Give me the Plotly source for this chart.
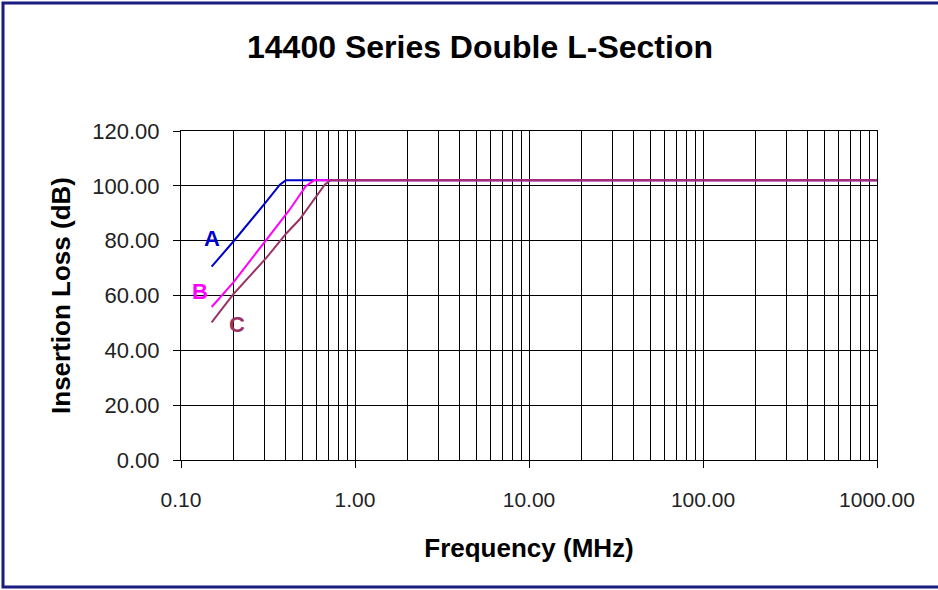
import math
import plotly.graph_objects as go

# Data
freq_a = [0.15, 0.2, 0.31, 0.37, 0.40, 1000]
loss_a = [70.5, 79.7, 94.3, 100.4, 102.0, 102.0]
freq_b = [0.15, 0.2, 0.31, 0.42, 0.52, 0.58, 1000]
loss_b = [55.8, 64.8, 80.4, 91.2, 99.8, 102.0, 102.0]
freq_c = [0.15, 0.2, 0.31, 0.405, 0.48, 0.67, 0.72, 1000]
loss_c = [50.2, 60.5, 73.8, 82.8, 87.7, 100.4, 102.0, 102.0]

series_names = ["A", "B", "C"]
series_colors = ["#0000CC", "#FF00FF", "#993366"]
label_freq = [0.151, 0.1286, 0.21]
label_loss = [80.7, 61.6, 49.5]

x_tickvals = [0.1, 1, 10, 100, 1000]
x_ticktext = ["0.10", "1.00", "10.00", "100.00", "1000.00"]
y_tickvals = [0, 20, 40, 60, 80, 100, 120]

W, H = 938, 590
L, R, T, B = 181, 61, 131, 130
pw, ph = W - L - R, H - T - B
FONT = "Arial, Liberation Sans, sans-serif"

fig = go.Figure()
for fx, ly, name, col in zip([freq_a, freq_b, freq_c], [loss_a, loss_b, loss_c],
                             series_names, series_colors):
    fig.add_trace(go.Scatter(x=fx, y=ly, mode="lines", name=name,
                             line=dict(color=col, width=2), showlegend=False))

for name, col, lx, ly in zip(series_names, series_colors, label_freq, label_loss):
    fig.add_annotation(x=math.log10(lx), y=ly, xref="x", yref="y", text="<b>%s</b>" % name,
                       showarrow=False, font=dict(family=FONT, size=22, color=col))

minor_vals = [d * m for d in [0.1, 1, 10, 100] for m in range(2, 10)]

fig.update_xaxes(type="log", range=[-1, 3], tickvals=x_tickvals, ticktext=x_ticktext,
                 ticks="outside", ticklen=7, tickcolor="black", tickwidth=1,
                 showgrid=True, gridcolor="black", gridwidth=1,
                 minor=dict(tickvals=minor_vals, showgrid=True, gridcolor="black", gridwidth=1, ticks=""),
                 showline=True, linecolor="black", linewidth=1, mirror=True,
                 tickfont=dict(family=FONT, size=21, color="#222"),
                 ticklabelstandoff=14,
                 title=dict(text="<b>Frequency (MHz)</b>", font=dict(family=FONT, size=26, color="black"), standoff=28),
                 zeroline=False)
fig.update_yaxes(range=[0, 120], tickvals=y_tickvals, tickformat=".2f",
                 ticks="outside", ticklen=7, tickcolor="black", tickwidth=1,
                 showgrid=True, gridcolor="black", gridwidth=1,
                 showline=True, linecolor="black", linewidth=1, mirror=True,
                 tickfont=dict(family=FONT, size=22, color="#222"),
                 ticklabelstandoff=9,
                 title=dict(text="<b>Insertion Loss (dB)</b>", font=dict(family=FONT, size=26, color="black"), standoff=14),
                 zeroline=False)

# outer chart border (right side runs off the picture, as in the reference)
def px_x(p):
    return (p - L) / pw
def px_y(p):
    return (H - B - p) / ph
fig.add_shape(type="rect", xref="paper", yref="paper",
              x0=px_x(3), x1=px_x(950), y0=px_y(587), y1=px_y(3),
              line=dict(color="#1a1a80", width=3), layer="below")

fig.update_layout(
    width=W, height=H, margin=dict(l=L, r=R, t=T, b=B),
    paper_bgcolor="white", plot_bgcolor="white",
    title=dict(text="<b>14400 Series Double L-Section</b>", x=480 / W, xanchor="center",
               y=1 - 47 / H, yanchor="middle", xref="container",
               font=dict(family=FONT, size=32, color="black")),
)
fig.write_html("out.html", config={"displayModeBar": False},
               post_script="document.body.style.margin='0px';document.body.style.overflow='hidden';")
